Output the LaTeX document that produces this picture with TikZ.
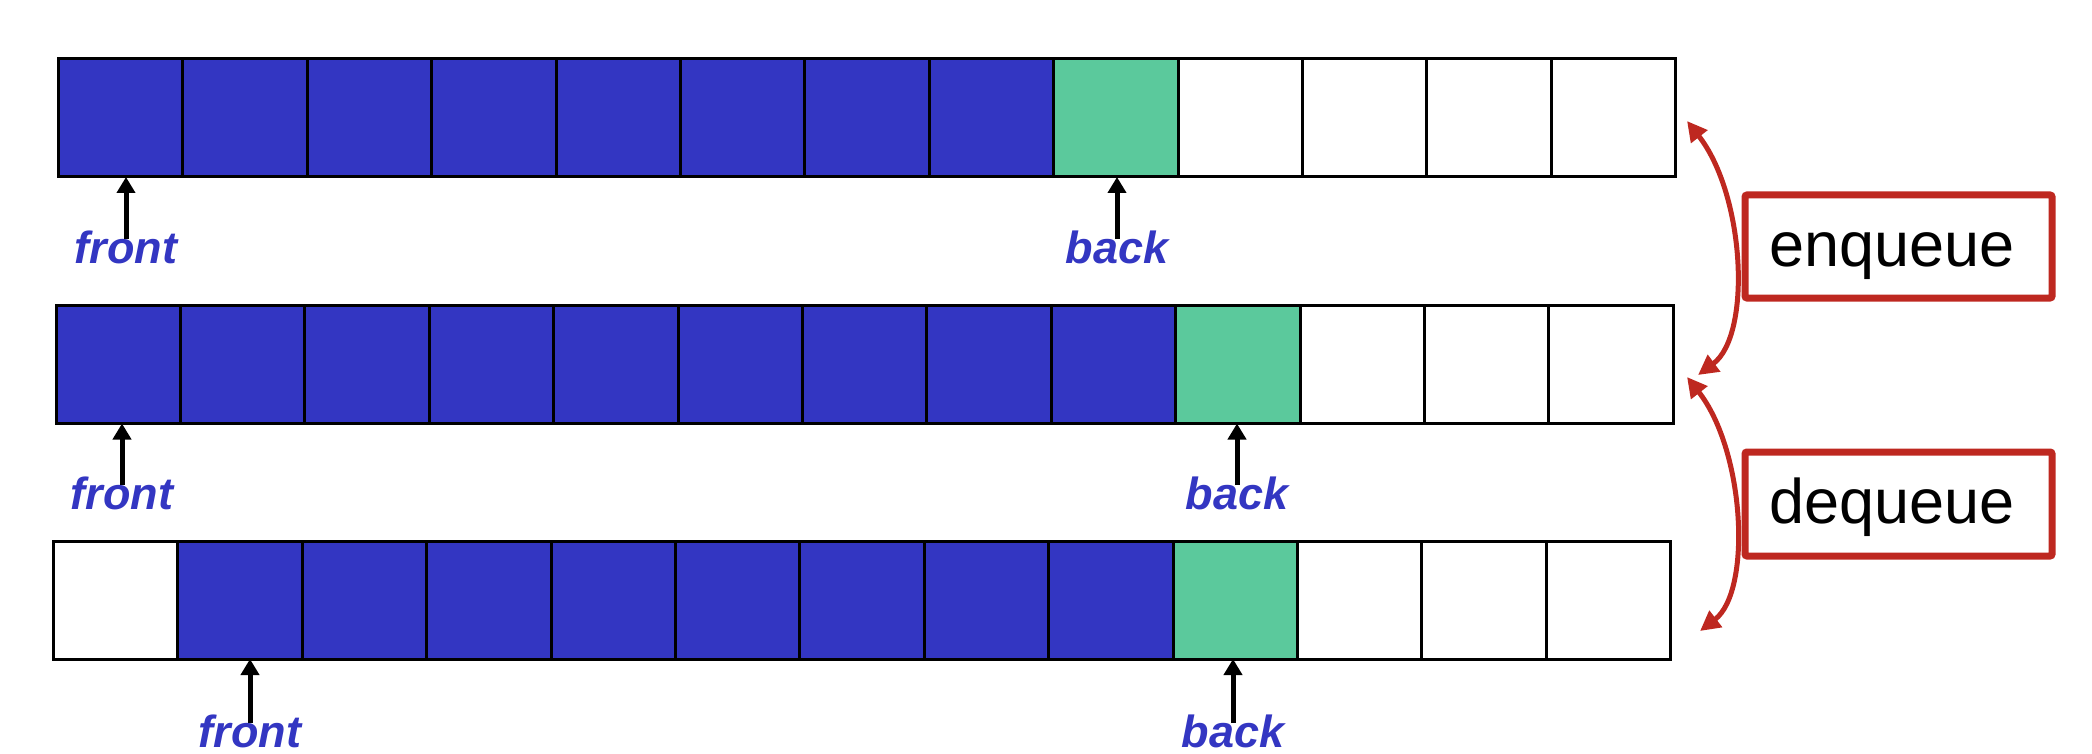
\documentclass[tikz,border=0pt]{standalone}
\usepackage{fontspec}
\setmainfont{Liberation Sans}
\usetikzlibrary{arrows.meta}
\definecolor{qblue}{RGB}{51,54,194}
\definecolor{qgreen}{RGB}{91,201,156}
\definecolor{qred}{RGB}{190,40,32}
\begin{document}
\begin{tikzpicture}[x=1pt,y=-1pt,
  cell/.style={draw=black,line width=3pt,minimum width=124.4pt,minimum height=118pt,inner sep=0pt,outer sep=0pt,anchor=north west},
  full/.style={cell,fill=qblue},
  tail/.style={cell,fill=qgreen},
  empty/.style={cell,fill=white},
  lbl/.style={text=qblue,font=\fontsize{45}{54}\selectfont\bfseries\itshape,inner sep=0pt,anchor=base},
  ptr/.style={line width=5pt,-{Triangle[length=16pt,width=18pt]}},
  op/.style={draw=qred,line width=7pt,rounded corners=2pt,minimum width=307pt,minimum height=103pt,font=\fontsize{63}{75}\selectfont,inner sep=0pt,text height=39pt,text depth=0pt},
  swing/.style={draw=qred,line width=5pt,{Triangle[length=20pt,width=20pt]}-{Triangle[length=20pt,width=20pt]}}]
\useasboundingbox (0,0) rectangle (2092,754);
% row 1
\foreach \i/\s in {0/full,1/full,2/full,3/full,4/full,5/full,6/full,7/full,8/tail,9/empty,10/empty,11/empty,12/empty}
  \node[\s] (r1c\i) at ({58.5+124.4*\i},59) {};
% row 2
\foreach \i/\s in {0/full,1/full,2/full,3/full,4/full,5/full,6/full,7/full,8/full,9/tail,10/empty,11/empty,12/empty}
  \node[\s] (r2c\i) at ({56+124.4*\i},305.5) {};
% row 3
\foreach \i/\s in {0/empty,1/full,2/full,3/full,4/full,5/full,6/full,7/full,8/full,9/tail,10/empty,11/empty,12/empty}
  \node[\s] (r3c\i) at ({53.5+124.4*\i},541) {};
% labels
\node[lbl] (f1) at (126,263) {front};
\node[lbl] (b1) at (1117,263) {back};
\node[lbl] (f2) at (122,509) {front};
\node[lbl] (b2) at (1237,509) {back};
\node[lbl] (f3) at (250,747) {front};
\node[lbl] (b3) at (1233,747) {back};
% pointers
\draw[ptr] ([yshift=-9pt]f1.north) -- (f1.north |- r1c0.south);
\draw[ptr] ([yshift=-9pt]b1.north) -- (b1.north |- r1c8.south);
\draw[ptr] ([yshift=-9pt]f2.north) -- (f2.north |- r2c0.south);
\draw[ptr] ([yshift=-9pt]b2.north) -- (b2.north |- r2c9.south);
\draw[ptr] ([yshift=-9pt]f3.north) -- (f3.north |- r3c1.south);
\draw[ptr] ([yshift=-9pt]b3.north) -- (b3.north |- r3c9.south);
% operations
\node[op] (enq) at (1898.5,246.5) {\kern-13pt enqueue};
\node[op,minimum height=104pt] (deq) at (1898.5,504) {\kern-13pt dequeue};
\coordinate (e1) at (1687,121);
\coordinate (e2) at (1698,375);
\coordinate (d1) at (1687,377);
\coordinate (d2) at (1700,631);
\draw[swing] (e1) .. controls (1745,195) and (1752,335) .. (e2);
\draw[swing] (d1) .. controls (1745,451) and (1752,591) .. (d2);
\end{tikzpicture}
\end{document}
